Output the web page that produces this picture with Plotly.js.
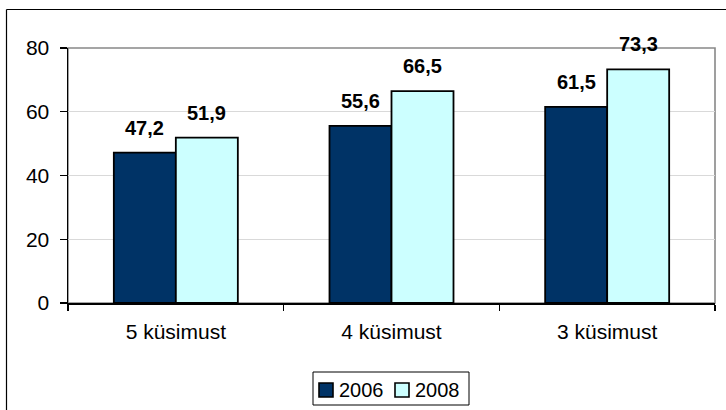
<!DOCTYPE html>
<html>
<head>
<meta charset="utf-8">
<script src="https://cdn.plot.ly/plotly-3.0.1.min.js"></script>
<style>
  html, body { margin: 0; padding: 0; background: #fff; }
  #chart { width: 726px; height: 410px; }
</style>
</head>
<body>
<div id="chart"></div>
<script>
// Share of respondents by number of questions, two survey years
const categories = ['5 küsimust', '4 küsimust', '3 küsimust'];
const seriesNames = ['2006', '2008'];
const values2006 = [47.2, 55.6, 61.5];
const values2008 = [51.9, 66.5, 73.3];
const yTicks = [0, 20, 40, 60, 80];

const colors = ['#003366', '#CCFFFF'];
const FONT = 'Liberation Sans, Arial, sans-serif';

// plot area in pixels
const W = 726, H = 410;
const M = { l: 68, r: 11, t: 48, b: 107 };
const PW = W - M.l - M.r, PH = H - M.t - M.b;
const px = x => (x - M.l) / PW;
const py = y => (H - M.b - y) / PH;

const bargap = 0.425;
const barW = (1 - bargap) / 2;

const seriesValues = [values2006, values2008];
const traces = seriesValues.map((vals, i) => ({
  type: 'bar',
  name: seriesNames[i],
  x: categories,
  y: vals,
  marker: { color: colors[i], line: { color: '#000', width: 1.8 } },
  hoverinfo: 'skip',
  showlegend: false
}));

const fmt = v => v.toFixed(1).replace('.', ',');

const annotations = [];
seriesValues.forEach((vals, i) => {
  const off = (i === 0 ? -1 : 1) * barW / 2;
  vals.forEach((v, k) => {
    annotations.push({
      xref: 'x', yref: 'y', x: k + off, y: v,
      text: '<b>' + fmt(v) + '</b>',
      showarrow: false, xanchor: 'center', yanchor: 'bottom', yshift: 12,
      font: { family: FONT, size: 20, color: '#000' }
    });
  });
});

// legend
const legBox = { x0: 313, x1: 469, y0: 372, y1: 405 };
const legItems = [{ sq: 319, tx: 337 }, { sq: 395, tx: 413 }];
const shapes = [
  // plot area frame
  { type: 'rect', xref: 'paper', yref: 'paper', x0: 0, x1: 1, y0: 0, y1: 1,
    line: { color: '#888', width: 1.6 }, layer: 'below' },
  // outer frame
  { type: 'line', xref: 'paper', yref: 'paper', x0: px(6.5), x1: px(6.5), y0: py(9.5), y1: py(420),
    line: { color: '#000', width: 1.2 } },
  { type: 'line', xref: 'paper', yref: 'paper', x0: px(6.5), x1: px(740), y0: py(9.5), y1: py(9.5),
    line: { color: '#000', width: 1.2 } },
  { type: 'rect', xref: 'paper', yref: 'paper', x0: px(legBox.x0), x1: px(legBox.x1),
    y0: py(legBox.y1), y1: py(legBox.y0), line: { color: '#000', width: 1 }, fillcolor: '#fff' }
];
legItems.forEach((it, i) => {
  shapes.push({ type: 'rect', xref: 'paper', yref: 'paper', x0: px(it.sq), x1: px(it.sq + 14),
    y0: py(397), y1: py(383), line: { color: '#000', width: 1.6 }, fillcolor: colors[i] });
  annotations.push({ xref: 'paper', yref: 'paper', x: px(it.tx), y: py(389.5),
    text: seriesNames[i], showarrow: false, xanchor: 'left', yanchor: 'middle',
    font: { family: FONT, size: 20, color: '#000' } });
});

const layout = {
  width: W, height: H,
  margin: M,
  paper_bgcolor: '#fff', plot_bgcolor: '#fff',
  font: { family: FONT, size: 20, color: '#000' },
  barmode: 'group', bargap: bargap, bargroupgap: 0,
  showlegend: false,
  xaxis: {
    type: 'category', tickson: 'boundaries', ticks: 'outside', ticklen: 6, tickwidth: 1.2,
    tickcolor: '#000', showline: true, linecolor: '#000', linewidth: 1.5,
    showgrid: false, tickfont: { family: FONT, size: 21, color: '#000' },
    ticklabelstandoff: 9, fixedrange: true
  },
  yaxis: {
    range: [0, 80], tickvals: yTicks, ticktext: yTicks.map(String),
    ticks: 'outside', ticklen: 7, tickwidth: 1.2, tickcolor: '#000',
    showline: true, linecolor: '#000', linewidth: 1.5,
    showgrid: true, gridcolor: '#d9d9d9', gridwidth: 1, zeroline: false,
    tickfont: { family: FONT, size: 21, color: '#000' },
    ticklabelstandoff: 6, fixedrange: true
  },
  shapes: shapes,
  annotations: annotations
};

Plotly.newPlot('chart', traces, layout, { staticPlot: true, displayModeBar: false });
</script>
</body>
</html>
